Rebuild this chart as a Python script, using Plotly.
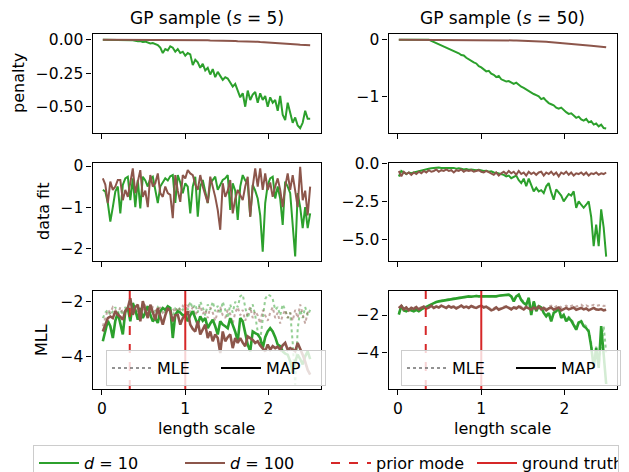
import plotly.graph_objects as go

# ---------------- data ----------------
length_scale = [round(0.01 + 0.03 * i, 2) for i in range(84)]
prior_mode = 1 / 3
ground_truth = 1.0

penalty_s5_d10 = [
    0, 0, 0, 0, 0, 0, 0, 0, 0, 0,
    0, -0.002, -0.005, -0.008, -0.012, -0.010, -0.018, -0.015, -0.022, -0.028,
    -0.025, -0.035, -0.040, -0.06, -0.10, -0.07, -0.08, -0.05, -0.06, -0.09,
    -0.07, -0.10, -0.09, -0.12, -0.10, -0.11, -0.19, -0.15, -0.17, -0.21,
    -0.18, -0.23, -0.21, -0.26, -0.22, -0.28, -0.24, -0.27, -0.30, -0.28,
    -0.29, -0.32, -0.35, -0.33, -0.38, -0.43, -0.40, -0.50, -0.38, -0.45,
    -0.41, -0.39, -0.47, -0.40, -0.45, -0.42, -0.50, -0.43, -0.47, -0.45,
    -0.53, -0.42, -0.56, -0.60, -0.47, -0.55, -0.62, -0.58, -0.64, -0.66,
    -0.62, -0.53, -0.59, -0.59]
penalty_s5_d100 = [
    0, 0, 0, 0, 0, 0, 0, 0, 0, 0,
    0, 0, 0, 0, 0, 0, 0, 0, 0, 0,
    0, 0, -0.001, -0.001, -0.001, -0.001, -0.001, -0.001, -0.002, -0.002,
    -0.002, -0.002, -0.002, -0.003, -0.003, -0.003, -0.003, -0.004, -0.004, -0.004,
    -0.005, -0.005, -0.005, -0.006, -0.006, -0.007, -0.007, -0.008, -0.008, -0.009,
    -0.009, -0.010, -0.010, -0.011, -0.012, -0.012, -0.013, -0.014, -0.014, -0.015,
    -0.016, -0.017, -0.016, -0.018, -0.019, -0.020, -0.021, -0.020, -0.022, -0.024,
    -0.025, -0.026, -0.027, -0.028, -0.030, -0.031, -0.032, -0.034, -0.036, -0.038,
    -0.039, -0.040, -0.041, -0.042]
penalty_s50_d10 = [
    0, 0, 0, 0, 0, 0, 0, 0, 0, 0,
    0, 0, 0, -0.02, -0.04, -0.06, -0.08, -0.10, -0.11, -0.14,
    -0.15, -0.17, -0.19, -0.22, -0.24, -0.27, -0.28, -0.32, -0.35, -0.37,
    -0.40, -0.42, -0.47, -0.49, -0.53, -0.56, -0.55, -0.60, -0.62, -0.66,
    -0.64, -0.70, -0.72, -0.74, -0.73, -0.76, -0.78, -0.76, -0.80, -0.83,
    -0.85, -0.88, -0.90, -0.93, -0.96, -0.98, -1.00, -1.05, -1.03, -1.08,
    -1.12, -1.14, -1.16, -1.20, -1.22, -1.20, -1.25, -1.28, -1.31, -1.30,
    -1.34, -1.38, -1.36, -1.41, -1.43, -1.40, -1.46, -1.44, -1.50, -1.48,
    -1.53, -1.50, -1.56, -1.57]
penalty_s50_d100 = [
    0, 0, 0, 0, 0, 0, 0, 0, 0, 0,
    0, 0, 0, 0, 0, 0, 0, 0, 0, 0,
    0, 0, 0, 0, 0, 0, 0, 0, 0, 0,
    -0.001, -0.001, -0.002, -0.002, -0.003, -0.003, -0.004, -0.005, -0.005, -0.006,
    -0.007, -0.008, -0.009, -0.010, -0.011, -0.012, -0.013, -0.015, -0.016, -0.018,
    -0.019, -0.021, -0.023, -0.025, -0.027, -0.029, -0.031, -0.034, -0.036, -0.039,
    -0.042, -0.045, -0.048, -0.051, -0.054, -0.058, -0.061, -0.065, -0.068, -0.072,
    -0.076, -0.080, -0.084, -0.088, -0.092, -0.097, -0.101, -0.106, -0.110, -0.115,
    -0.120, -0.125, -0.130, -0.135]

datafit_s5_d10 = [
    -0.58, -0.62, -0.9, -1.35, -1.0, -0.62, -0.5, -1.15, -0.46, -0.3,
    -0.26, -0.83, -0.3, -1.0, -0.34, -1.03, -0.26, -0.35, -0.5, -0.3,
    -0.26, -0.6, -0.9, -0.5, -0.4, -0.3, -0.35, -0.25, -0.22, -0.9,
    -0.22, -0.4, -0.66, -0.42, -0.5, -1.15, -0.5, -0.26, -1.23, -0.5,
    -0.34, -0.6, -0.9, -0.42, -0.35, -0.26, -0.58, -0.45, -0.34, -0.3,
    -0.22, -1.07, -0.42, -0.6, -1.31, -0.5, -0.22, -0.35, -0.42, -1.23,
    -0.46, -0.6, -0.79, -1.2, -2.08, -0.9, -0.46, -0.3, -0.26, -0.79,
    -0.5, -0.8, -1.43, -0.38, -0.5, -0.66, -1.4, -2.2, -0.66, -1.0,
    -1.51, -1.0, -1.51, -1.15]
datafit_s5_d100 = [
    -0.3, -0.45, -0.9, -0.38, -0.58, -0.5, -0.34, -0.34, -0.83, -0.58,
    -0.75, -0.4, -0.06, -0.66, -0.4, -0.1, -0.75, -0.6, -1.0, -0.22,
    -0.5, -0.42, -0.18, -0.66, -0.75, -0.5, -0.66, -0.7, -1.27, -0.22,
    -0.6, -0.87, -0.22, -0.3, -0.1, -0.18, -0.22, -0.45, -0.58, -0.22,
    -0.5, -0.7, -0.9, -0.26, -0.5, -0.75, -1.07, -1.55, -0.42, -0.75,
    -0.6, -0.34, -1.15, -0.8, -0.58, -0.7, -0.83, -0.5, -0.26, -1.23,
    -0.5, -0.06, -0.5, -0.06, -0.58, -0.18, -0.58, -0.4, -0.75, -0.5,
    -0.3, -0.58, -1.0, -0.5, -0.18, -0.58, -0.22, -0.6, -1.0, -0.02,
    -0.83, -0.6, -1.2, -0.5]
datafit_s50_d10 = [
    -0.86, -0.5, -0.6, -0.7, -0.6, -0.65, -0.6, -0.55, -0.5, -0.48,
    -0.45, -0.4, -0.35, -0.32, -0.3, -0.3, -0.28, -0.3, -0.3, -0.28,
    -0.3, -0.32, -0.3, -0.35, -0.33, -0.36, -0.4, -0.38, -0.42, -0.4,
    -0.43, -0.45, -0.42, -0.46, -0.5, -0.48, -0.55, -0.52, -0.6, -0.62,
    -0.65, -0.7, -0.75, -0.85, -0.8, -0.97, -0.9, -0.8, -1.1, -1.29,
    -1.0, -1.5, -1.0, -1.4, -1.83, -1.6, -1.83, -1.75, -1.94, -1.5,
    -1.29, -1.9, -2.37, -1.7, -1.94, -2.1, -2.48, -2.2, -2.0, -2.1,
    -1.83, -2.9, -2.48, -2.7, -2.9, -2.7, -2.48, -3.5, -5.4, -4.0,
    -5.4, -3.0, -4.2, -6.08]
datafit_s50_d100 = [
    -0.5, -0.85, -0.55, -0.7, -0.6, -0.75, -0.6, -0.7, -0.55, -0.65,
    -0.5, -0.6, -0.45, -0.55, -0.5, -0.4, -0.55, -0.45, -0.5, -0.4,
    -0.5, -0.45, -0.6, -0.45, -0.5, -0.4, -0.55, -0.45, -0.5, -0.45,
    -0.55, -0.5, -0.45, -0.55, -0.6, -0.5, -0.6, -0.7, -0.75, -0.6,
    -0.8, -0.65, -0.55, -0.7, -0.5, -0.65, -0.55, -0.75, -0.5, -0.7,
    -0.6, -0.8, -0.55, -0.7, -0.6, -0.75, -0.6, -0.55, -0.8, -0.6,
    -0.7, -0.55, -0.75, -0.6, -0.85, -0.6, -0.7, -0.55, -0.75, -0.6,
    -0.8, -0.65, -0.7, -0.6, -0.75, -0.6, -0.8, -0.65, -0.7, -0.6,
    -0.75, -0.65, -0.7, -0.6]

mll_map_s5_d10 = [
    -3.45, -3.1, -2.7, -2.9, -3.33, -2.7, -2.41, -2.8, -3.2, -2.35,
    -2.23, -2.72, -2.05, -2.3, -2.66, -2.23, -2.6, -2.4, -2.17, -2.48,
    -2.72, -2.6, -2.78, -2.35, -2.23, -2.3, -2.17, -2.23, -3.33, -2.48,
    -2.35, -2.4, -2.5, -2.48, -2.72, -2.5, -2.35, -2.6, -2.84, -2.54,
    -2.7, -2.6, -2.97, -2.8, -2.66, -2.9, -3.2, -2.72, -2.84, -2.9,
    -2.97, -2.6, -2.84, -3.1, -3.45, -2.6, -2.72, -3.2, -3.57, -3.82,
    -3.09, -3.15, -3.2, -3.33, -3.7, -3.3, -3.09, -2.97, -3.09, -3.3,
    -3.57, -3.63, -3.82, -3.9, -3.94, -4.18, -4.6, -4.18, -3.94, -4.1,
    -4.3, -4.0, -3.82, -4.1]
mll_map_s5_d100 = [
    -3.09, -2.84, -2.6, -2.54, -2.6, -2.35, -2.48, -2.55, -2.66, -2.35,
    -2.23, -1.87, -2.48, -2.2, -2.11, -2.72, -1.98, -2.3, -2.6, -2.11,
    -2.4, -2.66, -2.23, -2.54, -2.84, -2.5, -2.23, -2.35, -2.72, -2.5,
    -2.48, -2.84, -2.6, -2.5, -2.35, -2.84, -3.0, -3.09, -2.72, -3.2,
    -3.0, -2.84, -3.33, -3.09, -3.45, -3.2, -3.33, -3.88, -3.09, -3.45,
    -3.3, -3.2, -3.7, -3.33, -3.51, -3.33, -3.5, -3.63, -3.27, -3.33,
    -3.4, -3.51, -3.45, -3.6, -3.7, -3.82, -3.57, -3.76, -3.63, -3.7,
    -3.65, -3.76, -3.6, -3.51, -3.76, -3.7, -3.75, -3.82, -3.51, -3.7,
    -3.94, -4.2, -4.5, -4.67]
mll_mle_s5_d10 = [
    -2.6, -2.4, -2.3, -2.5, -2.35, -2.2, -2.4, -2.3, -2.5, -2.2,
    -2.3, -2.15, -2.3, -2.4, -2.2, -2.35, -2.25, -2.4, -2.2, -2.3,
    -2.45, -2.3, -2.2, -2.35, -2.25, -2.4, -2.2, -2.3, -2.5, -2.25,
    -2.35, -2.2, -2.3, -2.1, -2.3, -2.0, -2.25, -2.1, -2.4, -2.0,
    -2.2, -2.5, -2.1, -2.3, -2.0, -2.35, -2.15, -2.45, -2.0, -2.3,
    -2.6, -2.1, -2.4, -2.0, -2.2, -1.8, -1.74, -2.2, -2.6, -2.3,
    -2.1, -2.5, -3.1, -3.4, -2.6, -1.9, -1.74, -1.78, -1.9, -2.3,
    -2.2, -2.5, -2.1, -2.3, -2.6, -2.4, -3.5, -5.04, -3.0, -2.3,
    -2.6, -2.2, -2.5, -2.3]
mll_mle_s5_d100 = [
    -2.9, -2.6, -2.3, -2.4, -2.2, -2.3, -2.5, -2.2, -2.4, -2.3,
    -2.2, -2.35, -2.2, -2.3, -2.4, -2.2, -2.3, -2.15, -2.3, -2.4,
    -2.2, -2.3, -2.35, -2.2, -2.4, -2.3, -2.2, -2.35, -2.25, -2.4,
    -2.2, -2.3, -2.15, -2.3, -2.1, -2.4, -2.2, -2.5, -2.3, -2.15,
    -2.45, -2.3, -2.6, -2.2, -2.4, -2.7, -2.35, -2.2, -2.5, -2.6,
    -2.3, -2.45, -2.8, -2.4, -2.2, -2.5, -2.3, -2.7, -2.4, -2.2,
    -2.6, -2.35, -2.5, -2.8, -2.3, -2.5, -2.7, -2.4, -2.2, -2.6,
    -2.4, -2.8, -2.5, -2.3, -2.6, -2.4, -2.7, -2.3, -2.6, -2.1,
    -2.5, -2.8, -2.4, -2.3]

mll_map_s50_d10 = [
    -1.98, -1.5, -1.75, -1.8, -1.7, -1.75, -1.8, -1.72, -1.8, -1.7,
    -1.63, -1.6, -1.5, -1.45, -1.38, -1.3, -1.27, -1.25, -1.22, -1.18,
    -1.18, -1.15, -1.12, -1.09, -1.1, -1.07, -1.05, -1.04, -1.0, -1.02,
    -1.0, -0.98, -1.0, -1.0, -0.98, -1.0, -1.02, -0.98, -1.0, -1.0,
    -0.97, -0.95, -0.93, -0.95, -0.91, -1.0, -1.27, -1.0, -0.91, -1.2,
    -1.36, -1.45, -1.09, -2.0, -1.27, -1.8, -1.54, -1.6, -1.89, -2.07,
    -1.9, -2.34, -1.89, -1.8, -1.63, -2.16, -2.0, -2.34, -2.16, -2.3,
    -2.52, -2.79, -2.4, -2.34, -2.6, -2.7, -2.88, -3.68, -4.84, -3.77,
    -4.84, -2.6, -4.13, -5.7]
mll_map_s50_d100 = [
    -1.63, -1.5, -1.7, -1.6, -1.75, -1.62, -1.68, -1.58, -1.7, -1.62,
    -1.55, -1.65, -1.6, -1.5, -1.62, -1.55, -1.6, -1.5, -1.58, -1.62,
    -1.52, -1.6, -1.55, -1.65, -1.58, -1.5, -1.6, -1.55, -1.62, -1.52,
    -1.58, -1.62, -1.55, -1.5, -1.6, -1.55, -1.65, -1.75, -1.7, -1.6,
    -1.72, -1.65, -1.6, -1.55, -1.62, -1.7, -1.6, -1.65, -1.55, -1.62,
    -1.7, -1.58, -1.65, -1.72, -1.6, -1.68, -1.55, -1.7, -1.62, -1.75,
    -1.65, -1.6, -1.72, -1.65, -1.6, -1.75, -1.68, -1.62, -1.7, -1.65,
    -1.6, -1.72, -1.68, -1.62, -1.7, -1.65, -1.75, -1.68, -1.62, -1.7,
    -1.72, -1.68, -1.75, -1.72]
mll_mle_s50_d10 = [
    -1.95, -1.5, -1.72, -1.78, -1.68, -1.72, -1.78, -1.7, -1.76, -1.68,
    -1.6, -1.58, -1.48, -1.43, -1.36, -1.3, -1.26, -1.24, -1.2, -1.17,
    -1.16, -1.14, -1.1, -1.08, -1.08, -1.06, -1.04, -1.03, -0.99, -1.01,
    -0.99, -0.97, -0.99, -0.99, -0.97, -0.99, -1.01, -0.97, -0.99, -0.99,
    -0.96, -0.94, -0.92, -0.94, -0.9, -0.98, -1.2, -0.98, -0.9, -1.15,
    -1.3, -1.4, -1.07, -1.9, -1.25, -1.7, -1.5, -1.55, -1.8, -2.0,
    -1.85, -2.2, -1.85, -1.75, -1.6, -2.1, -1.95, -2.25, -2.1, -2.2,
    -2.45, -2.7, -2.35, -2.3, -2.5, -2.6, -2.8, -3.5, -4.7, -3.7,
    -4.7, -3.5, -2.6, -4.0]
mll_mle_s50_d100 = [
    -1.6, -1.55, -1.65, -1.58, -1.7, -1.6, -1.62, -1.55, -1.65, -1.6,
    -1.52, -1.6, -1.57, -1.48, -1.6, -1.52, -1.57, -1.5, -1.55, -1.6,
    -1.5, -1.57, -1.52, -1.6, -1.55, -1.48, -1.57, -1.52, -1.6, -1.5,
    -1.55, -1.6, -1.52, -1.48, -1.57, -1.52, -1.6, -1.7, -1.65, -1.57,
    -1.68, -1.6, -1.55, -1.52, -1.58, -1.65, -1.55, -1.6, -1.5, -1.57,
    -1.62, -1.52, -1.6, -1.65, -1.55, -1.6, -1.5, -1.62, -1.55, -1.68,
    -1.55, -1.5, -1.6, -1.55, -1.48, -1.6, -1.55, -1.5, -1.58, -1.52,
    -1.45, -1.55, -1.5, -1.45, -1.55, -1.48, -1.55, -1.5, -1.45, -1.52,
    -1.5, -1.45, -1.52, -1.5]

column_titles = ["GP sample (<i>s</i> = 5)", "GP sample (<i>s</i> = 50)"]
row_titles = ["penalty", "data fit", "MLL"]
x_title = "length scale"
d_labels = ["<i>d</i> = 10", "<i>d</i> = 100"]

# ---------------- style ----------------
W, H = 629, 472
GREEN, BROWN, RED = "#2ca02c", "#8c564b", "#d62728"
FONT = "DejaVu Sans"
X_DOM = [[92.5 / W, 321 / W], [388.5 / W, 617 / W]]
Y_DOM = [[1 - 133 / H, 1 - 34 / H], [1 - 261 / H, 1 - 163 / H], [1 - 389 / H, 1 - 291 / H]]
X_RANGE = [-0.114, 2.63]
Y_RANGES = {1: [-0.696, 0.042], 2: [-1.648, 0.10],
            3: [-2.309, 0.073], 4: [-6.37, 0.02],
            5: [-5.198, -1.608], 6: [-5.968, -0.713]}
Y_TICKS = {1: [0, -0.25, -0.5], 2: [0, -1], 3: [0, -1, -2],
           4: [0, -2.5, -5], 5: [-2, -4], 6: [-2, -4]}
Y_FMT = {1: ".2f", 2: "d", 3: "d", 4: ".1f", 5: "d", 6: "d"}

fig = go.Figure()


def line(k, y, color, width=2.0, dash="solid", opacity=1.0, name=None,
         showlegend=False, legend="legend"):
    fig.add_trace(go.Scatter(
        x=length_scale, y=y, mode="lines", xaxis=f"x{k}", yaxis=f"y{k}",
        line=dict(color=color, width=width, dash=dash), opacity=opacity,
        name=name, showlegend=showlegend, legend=legend, hoverinfo="skip"))


# penalty
line(1, penalty_s5_d10, GREEN, name=d_labels[0], showlegend=True)
line(1, penalty_s5_d100, BROWN, name=d_labels[1], showlegend=True)
line(2, penalty_s50_d10, GREEN)
line(2, penalty_s50_d100, BROWN)
# data fit
line(3, datafit_s5_d10, GREEN)
line(3, datafit_s5_d100, BROWN)
line(4, datafit_s50_d10, GREEN)
line(4, datafit_s50_d100, BROWN)
# MLL
for k, mle10, mle100, map10, map100 in [
        (5, mll_mle_s5_d10, mll_mle_s5_d100, mll_map_s5_d10, mll_map_s5_d100),
        (6, mll_mle_s50_d10, mll_mle_s50_d100, mll_map_s50_d10, mll_map_s50_d100)]:
    line(k, mle10, GREEN, width=2.0, dash="dot", opacity=0.5)
    line(k, mle100, BROWN, width=2.0, dash="dot", opacity=0.5)
    line(k, map10, GREEN, width=2.6)
    line(k, map100, BROWN, width=2.6)
    lo, hi = Y_RANGES[k]
    fig.add_trace(go.Scatter(
        x=[prior_mode, prior_mode], y=[lo, hi], mode="lines",
        xaxis=f"x{k}", yaxis=f"y{k}", line=dict(color=RED, width=2, dash="dash"),
        name="prior mode", showlegend=(k == 5), legend="legend", hoverinfo="skip"))
    fig.add_trace(go.Scatter(
        x=[ground_truth, ground_truth], y=[lo, hi], mode="lines",
        xaxis=f"x{k}", yaxis=f"y{k}", line=dict(color=RED, width=2),
        name="ground truth", showlegend=(k == 5), legend="legend", hoverinfo="skip"))
    lg = "legend2" if k == 5 else "legend3"
    fig.add_trace(go.Scatter(
        x=[None], y=[None], mode="lines", xaxis=f"x{k}", yaxis=f"y{k}",
        line=dict(color="rgba(110,110,110,0.75)", width=2, dash="dot"),
        name="MLE", showlegend=True, legend=lg))
    fig.add_trace(go.Scatter(
        x=[None], y=[None], mode="lines", xaxis=f"x{k}", yaxis=f"y{k}",
        line=dict(color="black", width=2), name="MAP", showlegend=True, legend=lg))

layout = dict(
    width=W, height=H, margin=dict(l=0, r=0, t=0, b=0, autoexpand=False),
    paper_bgcolor="white", plot_bgcolor="white",
    font=dict(family=FONT, size=16, color="black"),
    showlegend=True,
)
axis_common = dict(showline=True, mirror=True, linecolor="black", linewidth=1.1,
                   ticks="outside", ticklen=5, tickwidth=1.1, tickcolor="black",
                   showgrid=False, zeroline=False,
                   tickfont=dict(family=FONT, size=15.5, color="black"))
for k in range(1, 7):
    row = (k - 1) // 2
    col = (k - 1) % 2
    layout[f"xaxis{k}" if k > 1 else "xaxis"] = dict(
        axis_common, domain=X_DOM[col], range=X_RANGE, anchor=f"y{k}",
        tickvals=[0, 1, 2], showticklabels=(row == 2))
    layout[f"yaxis{k}" if k > 1 else "yaxis"] = dict(
        axis_common, domain=Y_DOM[row], range=Y_RANGES[k], anchor=f"x{k}",
        tickvals=Y_TICKS[k], tickformat=Y_FMT[k])

layout["legend"] = dict(
    orientation="h", x=33 / W, y=1 - 445 / H, xanchor="left", yanchor="top",
    bgcolor="white", bordercolor="#cccccc", borderwidth=1,
    font=dict(family=FONT, size=16), itemwidth=40,
    entrywidth=91, entrywidthmode="pixels", traceorder="normal")
for name, lx in [("legend2", 106 / W), ("legend3", 401 / W)]:
    layout[name] = dict(
        orientation="h", x=lx, y=1 - 350 / H, xanchor="left", yanchor="top",
        bgcolor="rgba(255,255,255,0.8)", bordercolor="#cccccc", borderwidth=1,
        font=dict(family=FONT, size=16), itemwidth=40,
        entrywidth=54, entrywidthmode="pixels", traceorder="normal")

annotations = []
for col, cx in enumerate([(92.5 + 321) / 2, (388.5 + 617) / 2]):
    annotations.append(dict(text=column_titles[col], x=cx / W, y=1 - 18 / H,
                            xref="paper", yref="paper", showarrow=False,
                            xanchor="center", yanchor="middle",
                            font=dict(family=FONT, size=17)))
    annotations.append(dict(text=x_title, x=cx / W, y=1 - 428 / H,
                            xref="paper", yref="paper", showarrow=False,
                            xanchor="center", yanchor="middle",
                            font=dict(family=FONT, size=16)))
for row, (lx, ly) in enumerate([(18.5, 83.5), (43, 212), (41, 340)]):
    annotations.append(dict(text=row_titles[row], x=lx / W, y=1 - ly / H,
                            xref="paper", yref="paper", showarrow=False,
                            xanchor="center", yanchor="middle", textangle=-90,
                            font=dict(family=FONT, size=16)))
layout["annotations"] = annotations

fig.update_layout(**layout)
fig.write_html("out.html", config={"displayModeBar": False},
               post_script="document.body.style.margin='0';"
                           "document.body.style.overflow='hidden';")
